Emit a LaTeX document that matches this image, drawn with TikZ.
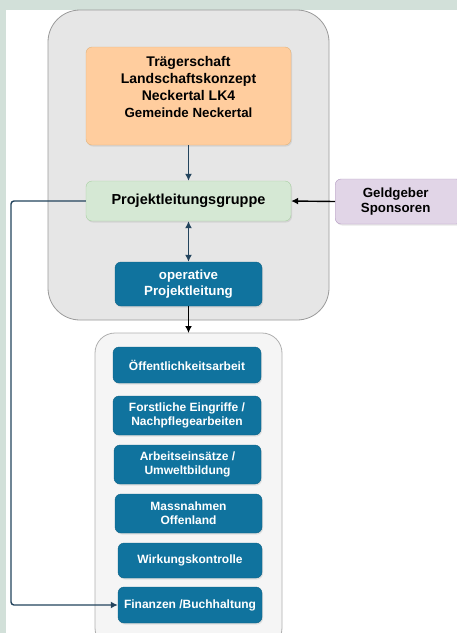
\documentclass[tikz,border=0pt]{standalone}
\usepackage{fontspec}
\setmainfont{Liberation Sans}
\usetikzlibrary{arrows.meta,shadows}
\definecolor{framebg}{HTML}{D2E0D9}
\definecolor{outerfill}{HTML}{E6E6E6}
\definecolor{outerline}{HTML}{9A9A9A}
\definecolor{orfill}{HTML}{FFCD9E}
\definecolor{orline}{HTML}{E0B27A}
\definecolor{grfill}{HTML}{D5E8D4}
\definecolor{grline}{HTML}{A9CFA3}
\definecolor{vifill}{HTML}{E1D5E7}
\definecolor{viline}{HTML}{B49BC2}
\definecolor{bluefill}{HTML}{10739E}
\definecolor{lowfill}{HTML}{F5F5F5}
\definecolor{lowline}{HTML}{B0B0B0}
\definecolor{darkblue}{HTML}{23445D}
\tikzset{
  boxbase/.style={rectangle, rounded corners=6pt, align=center, font=\bfseries, inner sep=2pt,
    drop shadow={shadow xshift=1pt, shadow yshift=-1.5pt, opacity=0.18}},
  orangebox/.style={boxbase, fill=orfill, draw=orline, font=\fontsize{14}{17}\selectfont\bfseries},
  greenbox/.style={boxbase, fill=grfill, draw=grline, font=\fontsize{14.5}{17}\selectfont\bfseries},
  violetbox/.style={boxbase, fill=vifill, draw=viline, font=\fontsize{13.3}{15.7}\selectfont\bfseries},
  bluebox/.style={boxbase, fill=bluefill, draw=bluefill!85!black, text=white, font=\fontsize{13.3}{16}\selectfont\bfseries},
  taskbox/.style={boxbase, fill=bluefill, draw=bluefill!85!black, text=white, font=\fontsize{12}{14.3}\selectfont\bfseries},
  tip/.tip={Latex[length=7pt,width=7pt]},
  bluearrow/.style={draw=darkblue, line width=1.4pt, -tip},
  blackarrow/.style={draw=black, line width=1.4pt, -tip},
}
\begin{document}
\begin{tikzpicture}[x=1pt,y=-1pt]
\useasboundingbox (0,0) rectangle (457,633);
% frame
\fill[framebg] (0,0) rectangle (457,633);
\fill[white] (6,10) rectangle (457,640);
% outer container
\draw[fill=outerfill, draw=outerline, line width=0.8pt, rounded corners=32pt] (48,10) rectangle (329,320);
% lower container
\draw[fill=lowfill, draw=lowline, line width=0.8pt, rounded corners=20pt] (95,333) rectangle (282,648);
% nodes
\node[orangebox, minimum width=205pt, minimum height=98pt, text depth=0pt] (traeger) at (188.5,96)
  {Trägerschaft\\Landschaftskonzept\\Neckertal LK4\\{\fontsize{13.3}{17}\selectfont Gemeinde Neckertal}\\[1pt]};
\node[greenbox, minimum width=205pt, minimum height=40pt] (plg) at (188.5,201) {Projektleitungsgruppe};
\node[violetbox, minimum width=127pt, minimum height=45pt, anchor=west] (geld) at (335,201.5) {\hspace*{-6pt}Geldgeber\\\hspace*{-6pt}Sponsoren};
\node[bluebox, minimum width=147pt, minimum height=44pt] (oper) at (188.5,284) {operative\\Projektleitung};
\node[taskbox, minimum width=148pt, minimum height=36pt] (oeff) at (187,365) {Öffentlichkeitsarbeit};
\node[taskbox, minimum width=148pt, minimum height=39pt] (forst) at (187,415.5) {Forstliche Eingriffe /\\Nachpflegearbeiten};
\node[taskbox, minimum width=147pt, minimum height=39pt] (arbeit) at (187.5,464.5) {Arbeitseinsätze /\\Umweltbildung};
\node[taskbox, minimum width=147pt, minimum height=39pt] (mass) at (188.5,513.5) {Massnahmen\\Offenland};
\node[taskbox, minimum width=144pt, minimum height=35pt] (wirk) at (190,560.5) {Wirkungskontrolle};
\node[taskbox, minimum width=144pt, minimum height=36pt] (fin) at (190,605) {Finanzen /Buchhaltung};
\coordinate (lowtop) at (188.5,333);
% connectors
\draw[bluearrow] (traeger.south) -- (plg.north);
\draw[bluearrow, tip-tip] (plg.south) -- (oper.north);
\draw[blackarrow] (oper.south) -- (lowtop);
\draw[blackarrow] (geld.west) -- (plg.east);
\draw[bluearrow, rounded corners=3pt] (plg.west) -- (11,201) -- (11,605) -- (fin.west);
\end{tikzpicture}
\end{document}
